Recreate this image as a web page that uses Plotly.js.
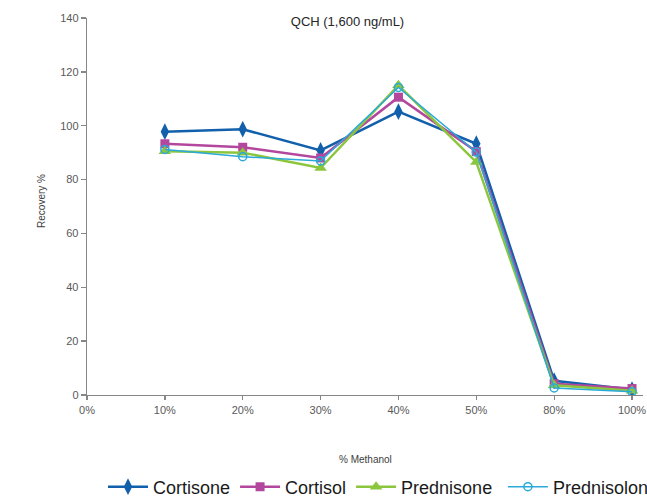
<!DOCTYPE html>
<html>
<head>
<meta charset="utf-8">
<script src="https://cdn.plot.ly/plotly-3.0.1.min.js"></script>
<style>html,body{margin:0;padding:0;background:#fff;}#chart{width:647px;height:497px;}</style>
</head>
<body>
<div id="chart"></div>
<script>
var categories = ['0%', '10%', '20%', '30%', '40%', '50%', '80%', '100%'];
var xPoints = ['10%', '20%', '30%', '40%', '50%', '80%', '100%'];
var cortisone = [97.8, 98.7, 90.8, 105.2, 93.3, 5.3, 2.0];
var cortisol = [93.3, 92.0, 88.0, 110.6, 90.4, 4.2, 2.4];
var prednisone = [90.5, 90.0, 84.3, 115.0, 86.5, 3.6, 1.6];
var prednisolone = [91.2, 88.5, 86.9, 114.2, 90.2, 2.6, 1.2];
var yTicks = [0, 20, 40, 60, 80, 100, 120, 140];

var traces = [
  {name: 'Cortisone', x: xPoints, y: cortisone, type: 'scatter', mode: 'lines+markers', legend: 'legend',
   line: {color: '#1260AB', width: 2.5}, marker: {symbol: 'diamond-tall', size: 12, color: '#1260AB'}},
  {name: 'Cortisol', x: xPoints, y: cortisol, type: 'scatter', mode: 'lines+markers', legend: 'legend',
   line: {color: '#B3479D', width: 2.5}, marker: {symbol: 'square', size: 9, color: '#B3479D'}},
  {name: 'Prednisone', x: xPoints, y: prednisone, type: 'scatter', mode: 'lines+markers', legend: 'legend',
   line: {color: '#8CC63F', width: 2.5}, marker: {symbol: 'triangle-up', size: 11, color: '#8CC63F'}},
  {name: 'Prednisolone', x: xPoints, y: prednisolone, type: 'scatter', mode: 'lines+markers', legend: 'legend2',
   line: {color: '#2AA9DA', width: 1.5}, marker: {symbol: 'circle-open', size: 8, color: '#2AA9DA', line: {width: 1.5}}}
];

var axisColor = '#868686';
var legendFont = {size: 18, color: '#1a1a1a'};
var layout = {
  width: 647, height: 497,
  margin: {l: 87, r: 4, t: 18, b: 102, autoexpand: false},
  paper_bgcolor: '#ffffff', plot_bgcolor: '#ffffff',
  font: {family: 'Liberation Sans, Arial, sans-serif', color: '#404040'},
  title: {text: 'QCH (1,600 ng/mL)', font: {size: 13, color: '#262626'},
          x: 0.4685, xref: 'paper', xanchor: 'center', y: 0.957, yref: 'container', yanchor: 'middle'},
  xaxis: {type: 'category', categoryorder: 'array', categoryarray: categories,
          tickvals: categories, ticktext: categories,
          range: [0, 7.141], showgrid: false, zeroline: false,
          showline: true, linecolor: axisColor, linewidth: 1.3,
          ticks: 'outside', ticklen: 4, tickcolor: axisColor, tickwidth: 1.3,
          tickfont: {size: 11, color: '#595959'}},
  yaxis: {range: [0, 140], tickvals: yTicks, showgrid: false, zeroline: false,
          showline: true, linecolor: axisColor, linewidth: 1.3,
          ticks: 'outside', ticklen: 5, tickcolor: axisColor, tickwidth: 1.3,
          tickfont: {size: 11, color: '#595959'}},
  annotations: [
    {text: '% Methanol', xref: 'paper', yref: 'paper', x: 0.5, y: -0.1724, xanchor: 'center', yanchor: 'middle',
     showarrow: false, font: {size: 10, color: '#404040'}},
    {text: 'Recovery %', xref: 'paper', yref: 'paper', x: -0.081, y: 0.5146, xanchor: 'center', yanchor: 'middle',
     textangle: -90, showarrow: false, font: {size: 10, color: '#404040'}}
  ],
  showlegend: true,
  legend: {orientation: 'h', x: 0.0288, xanchor: 'left', y: -0.244, yanchor: 'middle',
           itemwidth: 40, font: legendFont, bgcolor: 'rgba(0,0,0,0)', traceorder: 'normal'},
  legend2: {orientation: 'h', x: 0.748, xanchor: 'left', y: -0.244, yanchor: 'middle',
           itemwidth: 40, font: legendFont, bgcolor: 'rgba(0,0,0,0)'}
};

Plotly.newPlot('chart', traces, layout, {displayModeBar: false, staticPlot: true});
</script>
</body>
</html>
